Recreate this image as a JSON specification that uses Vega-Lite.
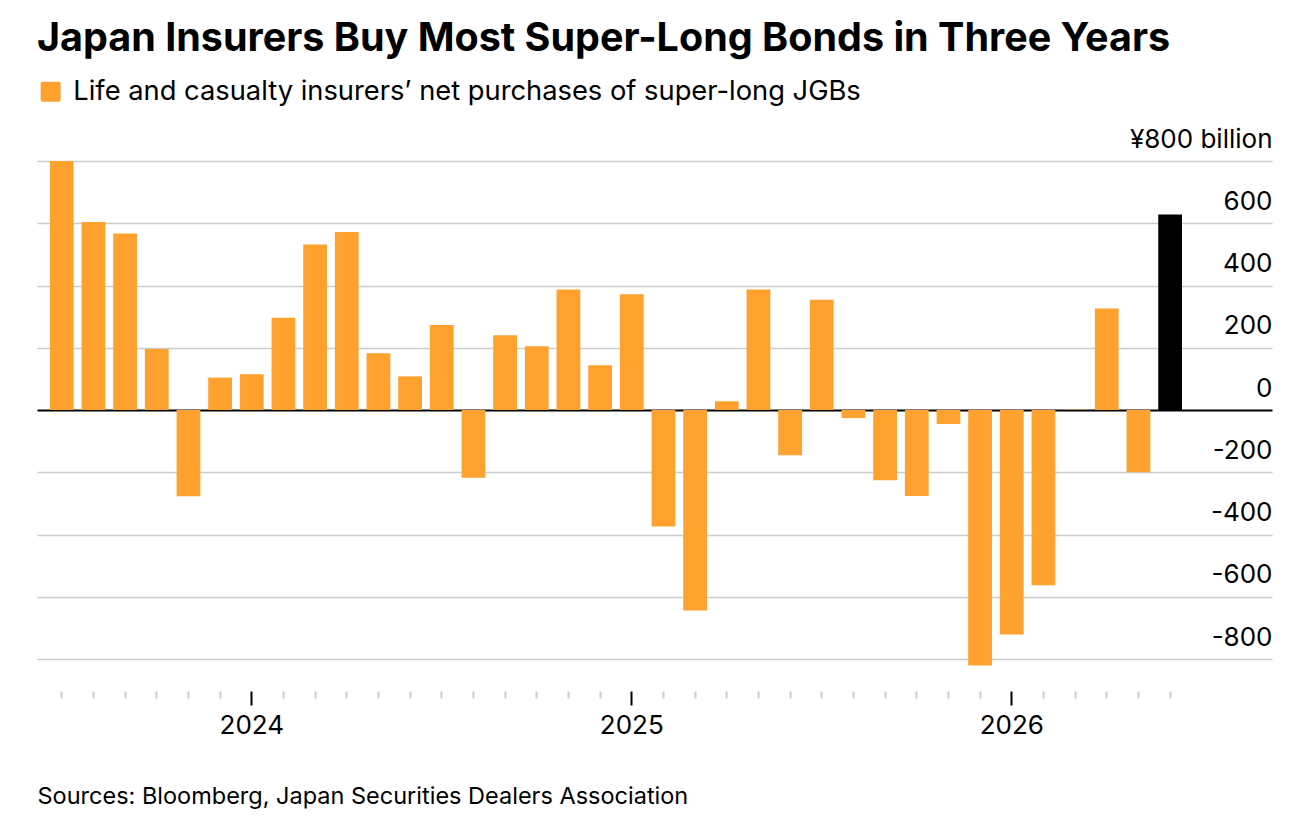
{
  "$schema": "https://vega.github.io/schema/vega-lite/v6.json",
  "width": 1235,
  "height": 498,
  "autosize": "none",
  "padding": {"left": 37, "top": 161, "right": 32, "bottom": 169},
  "background": "white",
  "config": {
    "view": {"stroke": null},
    "font": "Inter"
  },
  "title": {
    "text": "Japan Insurers Buy Most Super-Long Bonds in Three Years",
    "anchor": "start",
    "baseline": "alphabetic",
    "offset": -12,
    "font": "Inter",
    "fontSize": 39.5,
    "fontWeight": "bold",
    "color": "#000000"
  },
  "data": {
    "values": [
      {"month": "2023-07", "value": 800, "series": "Life and casualty insurers’ net purchases of super-long JGBs"},
      {"month": "2023-08", "value": 604, "series": "Life and casualty insurers’ net purchases of super-long JGBs"},
      {"month": "2023-09", "value": 567, "series": "Life and casualty insurers’ net purchases of super-long JGBs"},
      {"month": "2023-10", "value": 196, "series": "Life and casualty insurers’ net purchases of super-long JGBs"},
      {"month": "2023-11", "value": -277, "series": "Life and casualty insurers’ net purchases of super-long JGBs"},
      {"month": "2023-12", "value": 104, "series": "Life and casualty insurers’ net purchases of super-long JGBs"},
      {"month": "2024-01", "value": 115, "series": "Life and casualty insurers’ net purchases of super-long JGBs"},
      {"month": "2024-02", "value": 296, "series": "Life and casualty insurers’ net purchases of super-long JGBs"},
      {"month": "2024-03", "value": 532, "series": "Life and casualty insurers’ net purchases of super-long JGBs"},
      {"month": "2024-04", "value": 572, "series": "Life and casualty insurers’ net purchases of super-long JGBs"},
      {"month": "2024-05", "value": 182, "series": "Life and casualty insurers’ net purchases of super-long JGBs"},
      {"month": "2024-06", "value": 108, "series": "Life and casualty insurers’ net purchases of super-long JGBs"},
      {"month": "2024-07", "value": 273, "series": "Life and casualty insurers’ net purchases of super-long JGBs"},
      {"month": "2024-08", "value": -218, "series": "Life and casualty insurers’ net purchases of super-long JGBs"},
      {"month": "2024-09", "value": 240, "series": "Life and casualty insurers’ net purchases of super-long JGBs"},
      {"month": "2024-10", "value": 205, "series": "Life and casualty insurers’ net purchases of super-long JGBs"},
      {"month": "2024-11", "value": 387, "series": "Life and casualty insurers’ net purchases of super-long JGBs"},
      {"month": "2024-12", "value": 144, "series": "Life and casualty insurers’ net purchases of super-long JGBs"},
      {"month": "2025-01", "value": 372, "series": "Life and casualty insurers’ net purchases of super-long JGBs"},
      {"month": "2025-02", "value": -374, "series": "Life and casualty insurers’ net purchases of super-long JGBs"},
      {"month": "2025-03", "value": -644, "series": "Life and casualty insurers’ net purchases of super-long JGBs"},
      {"month": "2025-04", "value": 28, "series": "Life and casualty insurers’ net purchases of super-long JGBs"},
      {"month": "2025-05", "value": 387, "series": "Life and casualty insurers’ net purchases of super-long JGBs"},
      {"month": "2025-06", "value": -145, "series": "Life and casualty insurers’ net purchases of super-long JGBs"},
      {"month": "2025-07", "value": 354, "series": "Life and casualty insurers’ net purchases of super-long JGBs"},
      {"month": "2025-08", "value": -26, "series": "Life and casualty insurers’ net purchases of super-long JGBs"},
      {"month": "2025-09", "value": -226, "series": "Life and casualty insurers’ net purchases of super-long JGBs"},
      {"month": "2025-10", "value": -276, "series": "Life and casualty insurers’ net purchases of super-long JGBs"},
      {"month": "2025-11", "value": -45, "series": "Life and casualty insurers’ net purchases of super-long JGBs"},
      {"month": "2025-12", "value": -821, "series": "Life and casualty insurers’ net purchases of super-long JGBs"},
      {"month": "2026-01", "value": -721, "series": "Life and casualty insurers’ net purchases of super-long JGBs"},
      {"month": "2026-02", "value": -563, "series": "Life and casualty insurers’ net purchases of super-long JGBs"},
      {"month": "2026-03", "value": 1, "series": "Life and casualty insurers’ net purchases of super-long JGBs"},
      {"month": "2026-04", "value": 326, "series": "Life and casualty insurers’ net purchases of super-long JGBs"},
      {"month": "2026-05", "value": -200, "series": "Life and casualty insurers’ net purchases of super-long JGBs"},
      {"month": "2026-06", "value": 628, "series": "Life and casualty insurers’ net purchases of super-long JGBs"}
    ]
  },
  "mark": {"type": "bar"},
  "encoding": {
    "x": {
      "field": "month",
      "type": "ordinal",
      "sort": null,
      "scale": {
        "domain": ["2023-07", "2023-08", "2023-09", "2023-10", "2023-11", "2023-12",
                   "2024-01", "2024-02", "2024-03", "2024-04", "2024-05", "2024-06",
                   "2024-07", "2024-08", "2024-09", "2024-10", "2024-11", "2024-12",
                   "2025-01", "2025-02", "2025-03", "2025-04", "2025-05", "2025-06",
                   "2025-07", "2025-08", "2025-09", "2025-10", "2025-11", "2025-12",
                   "2026-01", "2026-02", "2026-03", "2026-04", "2026-05", "2026-06",
                   "2026-07", "2026-08"],
        "paddingInner": 0.25,
        "paddingOuter": 0.625,
        "align": 0.326,
        "round": false
      },
      "axis": {
        "offset": 32,
        "domain": false,
        "grid": false,
        "ticks": true,
        "tickSize": {"condition": {"test": "indexof(datum.value, '-01') > 0", "value": 14}, "value": 7},
        "tickColor": {"condition": {"test": "indexof(datum.value, '-01') > 0", "value": "#000000"}, "value": "#cccccc"},
        "tickOpacity": {"condition": {"test": "datum.value > '2026-06'", "value": 0}, "value": 1},
        "tickWidth": 2,
        "labelExpr": "indexof(datum.value, '-01') > 0 ? substring(datum.value, 0, 4) : ''",
        "labelAngle": 0,
        "labelPadding": 7,
        "labelBaseline": "top",
        "labelFontSize": 26,
        "labelColor": "#000000",
        "labelOverlap": false,
        "title": "Sources: Bloomberg, Japan Securities Dealers Association",
        "titleAnchor": "start",
        "titleAlign": "left",
        "titleBaseline": "alphabetic",
        "titleX": 0,
        "titleY": 112,
        "titleFontSize": 23.5,
        "titleFontWeight": "normal",
        "titleColor": "#000000"
      }
    },
    "y": {
      "field": "value",
      "type": "quantitative",
      "scale": {"domain": [-800, 800], "nice": false},
      "axis": {
        "orient": "right",
        "title": null,
        "values": [-800, -600, -400, -200, 0, 200, 400, 600, 800],
        "domain": false,
        "ticks": false,
        "grid": true,
        "gridColor": {"condition": {"test": "datum.value === 0", "value": "#000000"}, "value": "#cccccc"},
        "gridWidth": {"condition": {"test": "datum.value === 0", "value": 2}, "value": 1.5},
        "labelAlign": "right",
        "labelBaseline": "alphabetic",
        "labelPadding": 0,
        "labelOffset": -14,
        "labelFontSize": 26,
        "labelColor": "#000000",
        "labelFlush": false,
        "labelOverlap": false,
        "labelExpr": "datum.value === 800 ? '¥800 billion' : (datum.value < 0 ? '-' : '') + abs(datum.value)"
      }
    },
    "color": {
      "field": "series",
      "type": "nominal",
      "scale": {"range": ["#ffa12e"]},
      "condition": {"test": "datum.month === '2026-06'", "value": "#000000"},
      "legend": {
        "title": null,
        "orient": "none",
        "legendX": 0,
        "legendY": -83,
        "symbolType": "M-0.8,-1H0.8Q1,-1,1,-0.8V0.8Q1,1,0.8,1H-0.8Q-1,1,-1,0.8V-0.8Q-1,-1,-0.8,-1Z",
        "symbolSize": 400,
        "symbolStrokeWidth": 0,
        "symbolOpacity": 1,
        "labelFontSize": 27.3,
        "labelColor": "#000000",
        "labelOffset": 9,
        "labelLimit": 1000
      }
    }
  }
}
